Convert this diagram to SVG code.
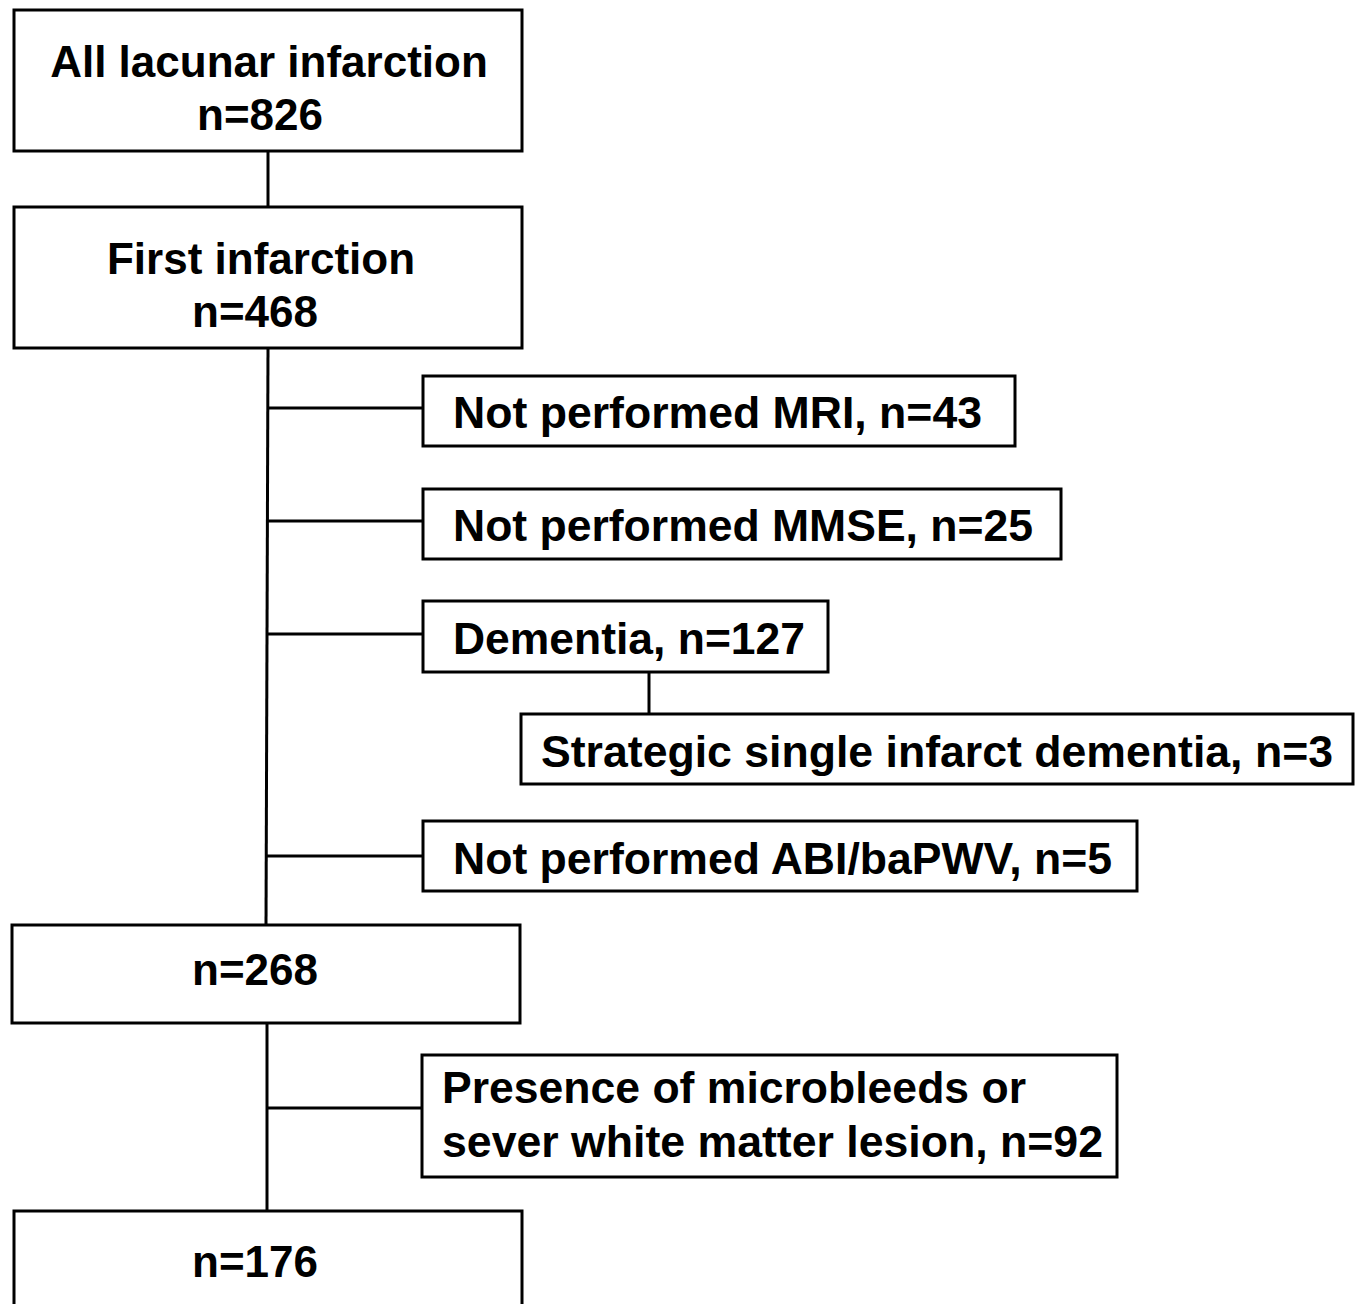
<svg xmlns="http://www.w3.org/2000/svg" width="1356" height="1304" viewBox="0 0 1356 1304">
<style>
.box{fill:#fff;stroke:#000;stroke-width:3}
.ln{stroke:#000;stroke-width:3;fill:none}
text{font-family:"Liberation Sans",Arial,sans-serif;font-weight:bold;font-size:44px;fill:#000}
.c{text-anchor:middle}
</style>
<rect width="1356" height="1304" fill="#fff"/>
<g id="connectors">
<line class="ln" x1="268" y1="151" x2="268" y2="207"/>
<line class="ln" x1="268" y1="348" x2="266" y2="925"/>
<line class="ln" x1="268" y1="408" x2="423" y2="408"/>
<line class="ln" x1="268" y1="521" x2="423" y2="521"/>
<line class="ln" x1="267" y1="634" x2="423" y2="634"/>
<line class="ln" x1="649" y1="672" x2="649" y2="714"/>
<line class="ln" x1="267" y1="856" x2="423" y2="856"/>
<line class="ln" x1="267" y1="1023" x2="267" y2="1211"/>
<line class="ln" x1="267" y1="1108" x2="422" y2="1108"/>
</g>
<g id="n1">
<rect class="box" x="14" y="10" width="508" height="141"/>
<text class="c" x="269" y="77">All lacunar infarction</text>
<text class="c" x="260" y="130">n=826</text>
</g>
<g id="n2">
<rect class="box" x="14" y="207" width="508" height="141"/>
<text class="c" x="261" y="274">First infarction</text>
<text class="c" x="255" y="327">n=468</text>
</g>
<g id="n3">
<rect class="box" x="423" y="376" width="592" height="70"/>
<text x="453" y="428" textLength="529" lengthAdjust="spacingAndGlyphs">Not performed MRI, n=43</text>
</g>
<g id="n4">
<rect class="box" x="423" y="489" width="638" height="70"/>
<text x="453" y="541" textLength="580" lengthAdjust="spacingAndGlyphs">Not performed MMSE, n=25</text>
</g>
<g id="n5">
<rect class="box" x="423" y="601" width="405" height="71"/>
<text x="453" y="654" textLength="352" lengthAdjust="spacingAndGlyphs">Dementia, n=127</text>
</g>
<g id="n6">
<rect class="box" x="521" y="714" width="832" height="70"/>
<text x="541" y="767" textLength="792" lengthAdjust="spacingAndGlyphs">Strategic single infarct dementia, n=3</text>
</g>
<g id="n7">
<rect class="box" x="423" y="821" width="714" height="70"/>
<text x="453" y="874" textLength="659" lengthAdjust="spacingAndGlyphs">Not performed ABI/baPWV, n=5</text>
</g>
<g id="n8">
<rect class="box" x="12" y="925" width="508" height="98"/>
<text class="c" x="255" y="985">n=268</text>
</g>
<g id="n9">
<rect class="box" x="422" y="1055" width="695" height="122"/>
<text x="442" y="1103" textLength="584" lengthAdjust="spacingAndGlyphs">Presence of microbleeds or</text>
<text x="442" y="1157" textLength="661" lengthAdjust="spacingAndGlyphs">sever white matter lesion, n=92</text>
</g>
<g id="n10">
<rect class="box" x="14" y="1211" width="508" height="110"/>
<text class="c" x="255" y="1277">n=176</text>
</g>
</svg>
